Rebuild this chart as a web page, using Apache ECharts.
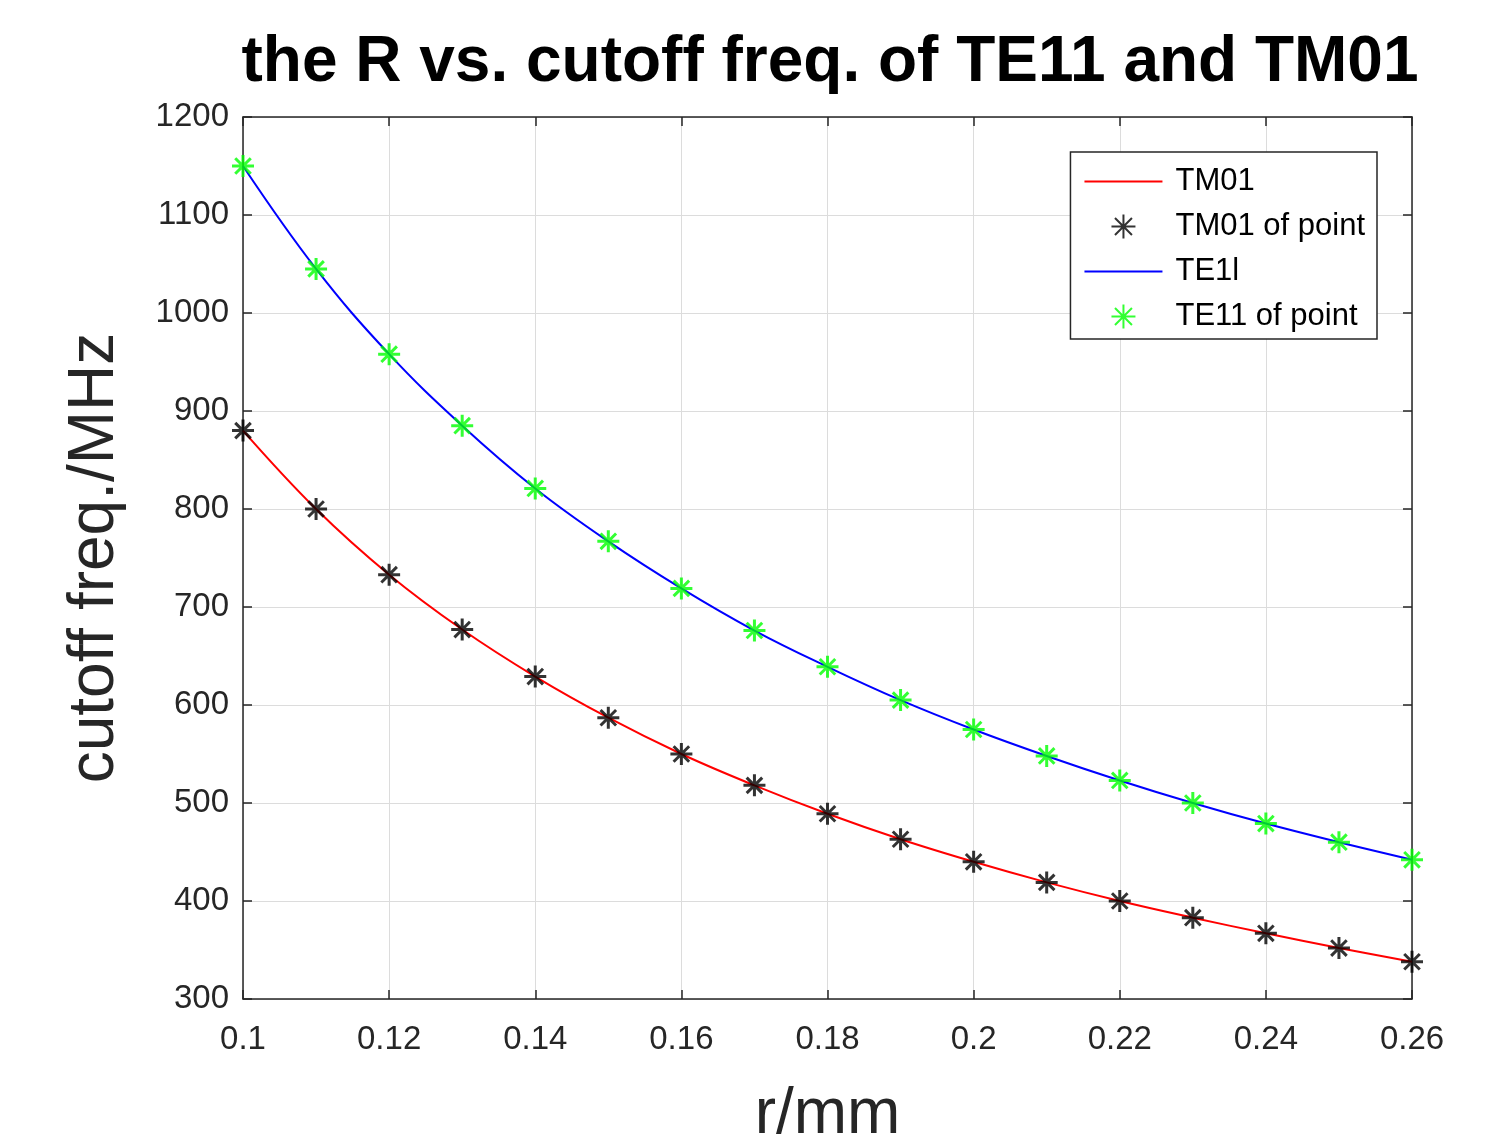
<!DOCTYPE html>
<html>
<head>
<meta charset="utf-8">
<script src="https://cdn.jsdelivr.net/npm/echarts@6/dist/echarts.min.js"></script>
<style>html,body{margin:0;padding:0;background:#fff;}#c{width:1509px;height:1142px;}</style>
</head>
<body>
<div id="c"></div>
<script>
const radius = [0.10,0.11,0.12,0.13,0.14,0.15,0.16,0.17,0.18,0.19,0.20,0.21,0.22,0.23,0.24,0.25,0.26];
const tm01 = [880,800,733,677,629,587,550,518,489,463,440,419,400,383,367,352,338];
const te11 = [1150,1045,958,885,821,767,719,676,639,605,575,548,523,500,479,460,442];
const xTicks = {min:0.1, max:0.26, step:0.02};
const yTicks = {min:300, max:1200, step:100};

const star = 'path://M0,-10L0,10M-10,0L10,0M-7.07,-7.07L7.07,7.07M-7.07,7.07L7.07,-7.07';
const lineIcon = 'path://M0,0H78V2H0Z';
const pair = (ys) => radius.map((r,i)=>[r, ys[i]]);
const axisCol = '#262626';
const font = 'Liberation Sans, Arial, sans-serif';

const chart = echarts.init(document.getElementById('c'), null, {renderer:'canvas'});
chart.setOption({
  animation:false,
  backgroundColor:'#fff',
  title:{text:'the R vs. cutoff freq. of TE11 and TM01', left:825, top:26, textAlign:'center',
    textStyle:{fontFamily:font, fontWeight:'bold', fontSize:64, color:'#000'}},
  grid:{left:243, top:117, width:1169, height:882, containLabel:false, outerBoundsMode:'none'},
  legend:{
    orient:'vertical', right:1509-1377, top:152,
    data:[
      {name:'TM01', icon:lineIcon},
      {name:'TM01 of point'},
      {name:'TE1l', icon:lineIcon},
      {name:'TE11 of point'}
    ],
    backgroundColor:'#fff', borderColor:axisCol, borderWidth:1.5,
    padding:[14,12,7,14], itemGap:14, itemWidth:78, itemHeight:24,
    textStyle:{fontFamily:font, fontSize:31, lineHeight:31, color:'#000', padding:[0,0,0,8]}
  },
  xAxis:[{
    type:'value', min:xTicks.min, max:xTicks.max, interval:xTicks.step,
    name:'r/mm', nameLocation:'middle', nameGap:84,
    nameTextStyle:{fontFamily:font, fontSize:64, color:axisCol},
    axisLine:{show:true, onZero:false, lineStyle:{color:axisCol, width:1.5}},
    axisTick:{show:true, inside:true, length:9, lineStyle:{color:axisCol, width:1.5}},
    axisLabel:{fontFamily:font, fontSize:33, color:axisCol, margin:24,
      formatter:v=>String(+v.toFixed(2))},
    splitLine:{show:true, lineStyle:{color:'#dcdcdc', width:1}}
  },{
    type:'value', position:'top', min:xTicks.min, max:xTicks.max, interval:xTicks.step,
    axisLine:{show:true, onZero:false, lineStyle:{color:axisCol, width:1.5}},
    axisTick:{show:true, inside:true, length:9, lineStyle:{color:axisCol, width:1.5}},
    axisLabel:{show:false}, splitLine:{show:false}
  }],
  yAxis:[{
    type:'value', min:yTicks.min, max:yTicks.max, interval:yTicks.step,
    name:'cutoff freq./MHz', nameLocation:'middle', nameGap:116, nameRotate:90,
    nameTextStyle:{fontFamily:font, fontSize:64, color:axisCol},
    axisLine:{show:true, onZero:false, lineStyle:{color:axisCol, width:1.5}},
    axisTick:{show:true, inside:true, length:9, lineStyle:{color:axisCol, width:1.5}},
    axisLabel:{fontFamily:font, fontSize:33, color:axisCol, margin:14, formatter:v=>String(v)},
    splitLine:{show:true, lineStyle:{color:'#dcdcdc', width:1}}
  },{
    type:'value', position:'right', min:yTicks.min, max:yTicks.max, interval:yTicks.step,
    axisLine:{show:true, onZero:false, lineStyle:{color:axisCol, width:1.5}},
    axisTick:{show:true, inside:true, length:9, lineStyle:{color:axisCol, width:1.5}},
    axisLabel:{show:false}, splitLine:{show:false}
  }],
  series:[
    {name:'TM01', type:'line', data:pair(tm01), smooth:0.4, symbol:'none',
      lineStyle:{color:'#ff0000', width:2}, itemStyle:{color:'#ff0000'}, z:2},
    {name:'TM01 of point', type:'scatter', data:pair(tm01), symbol:star, symbolSize:22,
      itemStyle:{color:'#000', borderColor:'#000', borderWidth:3}, z:3},
    {name:'TE1l', type:'line', data:pair(te11), smooth:0.4, symbol:'none',
      lineStyle:{color:'#0000ff', width:2}, itemStyle:{color:'#0000ff'}, z:2},
    {name:'TE11 of point', type:'scatter', data:pair(te11), symbol:star, symbolSize:22,
      itemStyle:{color:'#00ff00', borderColor:'#00ff00', borderWidth:3}, z:3}
  ]
});
</script>
</body>
</html>
